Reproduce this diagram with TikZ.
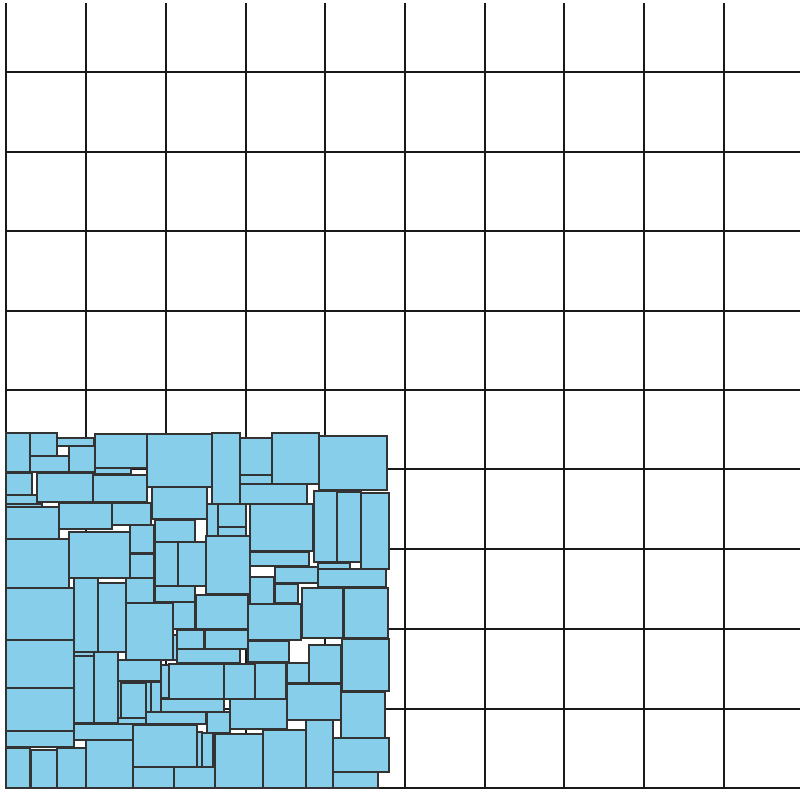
\documentclass[tikz,border=0pt]{standalone}
\definecolor{sky}{RGB}{135,206,235}
\begin{document}
\begin{tikzpicture}[x=0.75pt,y=-0.75pt,
  gridline/.style={line width=1.1pt,draw=black!90},
  rbox/.style={fill=sky,draw=black!80,line width=0.9pt}]
\useasboundingbox (0,0) rectangle (800,789);
\foreach \v in {6,86,166,246,325,405,485,564,644,724}
  \draw[gridline] (\v,3) -- (\v,788);
\foreach \h in {72,152,231,311,390,469,549,629,709,788}
  \draw[gridline] (6,\h) -- (800,\h);
\foreach \a/\b/\c/\d in {
6/433/30/472, 30/433/57/456, 57/438/94/446, 69/446/95/472, 30/456/69/472,
95/434/147/468, 95/468/131/474, 6/473/32/495, 37/473/93/502, 93/475/147/502,
6/495/37/504, 6/504/42/507, 6/507/59/539, 59/503/112/529, 112/503/151/525,
69/532/130/578, 6/539/69/588, 147/434/212/487, 212/433/240/504, 240/438/272/475,
240/475/272/484, 240/484/307/504, 152/487/207/519, 207/504/218/536, 218/504/246/527,
218/527/246/536, 250/504/313/551, 130/525/154/553, 155/520/195/542, 155/542/178/586,
178/542/206/586, 206/536/250/594, 272/433/319/484, 319/436/387/490, 314/491/337/562,
337/492/361/562, 361/493/389/569, 6/588/74/640, 74/578/98/652, 98/583/126/652,
126/578/154/603, 126/603/173/660, 6/640/74/688, 74/656/94/723, 94/652/118/723,
74/652/94/656, 118/660/161/681, 130/554/154/578, 155/586/195/602, 173/602/195/629,
196/595/248/629, 250/552/309/566, 250/577/274/604, 248/604/301/640, 248/641/289/662,
173/635/177/660, 177/630/204/649, 205/630/248/649, 177/649/240/663, 169/664/224/699,
224/664/255/699, 318/563/350/569, 275/567/318/583, 318/569/386/587, 275/584/298/603,
302/588/343/638, 344/588/388/638, 309/645/341/683, 342/639/389/691, 255/663/286/699,
287/663/309/683, 6/688/74/731, 6/731/74/747, 121/683/146/718, 118/681/121/718,
118/718/146/724, 74/724/133/740, 86/740/133/788, 6/748/30/788, 31/750/57/788,
57/748/86/788, 161/665/169/698, 146/682/151/712, 151/682/161/712, 161/699/224/712,
146/712/206/724, 207/712/230/733, 230/699/287/729, 133/725/197/767, 197/732/202/767,
202/733/213/767, 215/734/264/788, 133/767/174/788, 174/767/215/788, 287/684/341/720,
263/730/306/788, 306/720/333/788, 341/692/385/738, 333/738/389/772, 333/772/378/788}
  \draw[rbox] (\a,\b) rectangle (\c,\d);
\end{tikzpicture}
\end{document}
